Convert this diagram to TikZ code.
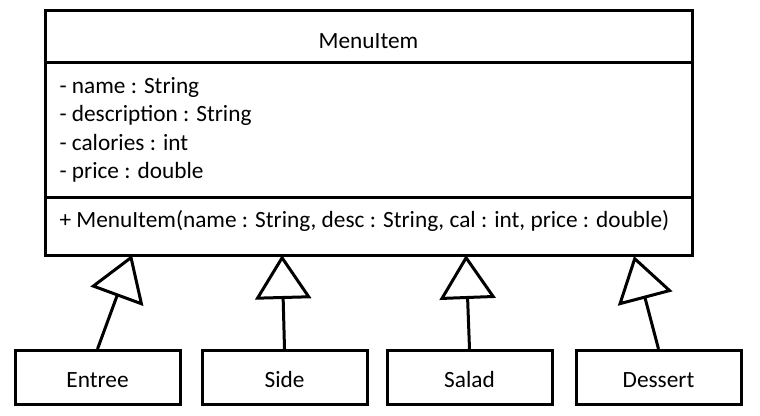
\documentclass[tikz,border=0pt]{standalone}
\usepackage{fontspec}
\setmainfont{Carlito}
\usetikzlibrary{arrows.meta,positioning}

\begin{document}
\begin{tikzpicture}[x=1pt,y=-1pt,line width=3pt]
  \tikzstyle{every node}+=[inner sep=0pt, font=\fontsize{23.3}{27}\selectfont]
  \tikzstyle{classbox}=[draw, black, minimum width=647pt, minimum height=245pt]
  \tikzstyle{subclass}=[draw, black, minimum width=165pt, minimum height=54pt, text height=20pt, text depth=0pt]
  \tikzstyle{inherit}=[-{Triangle[open,length=44pt,width=56pt]}]
  \useasboundingbox (0,0) rectangle (760,415);
  \node [classbox] (menuitem) at (368.5,132.5) {};
  \draw [black] (45,62) -- (692,62);
  \draw [black] (45,197) -- (692,197);
  \node [anchor=base] (title) at (368.5,48) {MenuItem};
  \node [anchor=base west] (attrname) at (58,93) {- name : String};
  \node [anchor=base west] (attrdesc) at (58,121.5) {- description : String};
  \node [anchor=base west] (attrcal) at (58,150) {- calories : int};
  \node [anchor=base west] (attrprice) at (58,178.5) {- price : double};
  \node [anchor=base west] (ctor) at (58,227) {+ MenuItem(name : String, desc : String, cal : int, price : double)};
  \node [subclass] (entree) at (97.5,377.5) {Entree};
  \node [subclass] (side) at (284.5,377.5) {Side};
  \node [subclass] (salad) at (469.5,377.5) {Salad};
  \node [subclass] (dessert) at (658.5,377.5) {Dessert};
  \coordinate (entreetip) at (132,255);
  \coordinate (sidetip) at (282,255);
  \coordinate (saladtip) at (466,255);
  \coordinate (desserttip) at (634,256);
  \draw [inherit] (entree.north) -- (entreetip);
  \draw [inherit] (side.north) -- (sidetip);
  \draw [inherit] (salad.north) -- (saladtip);
  \draw [inherit] (dessert.north) -- (desserttip);
\end{tikzpicture}
\end{document}
